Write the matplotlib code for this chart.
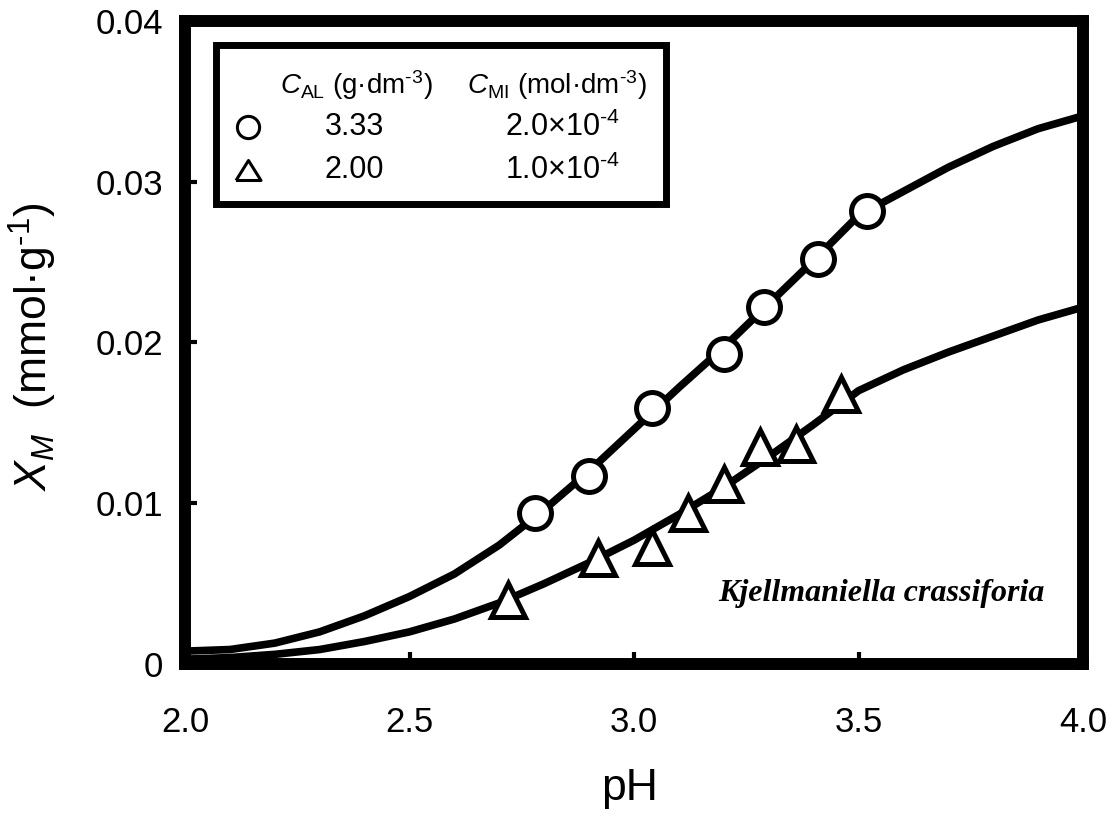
import numpy as np
import matplotlib
matplotlib.use('Agg')
import matplotlib.pyplot as plt
from matplotlib.patches import Rectangle

plt.rcParams['font.family'] = ['Liberation Sans', 'DejaVu Sans']
plt.rcParams['mathtext.fontset'] = 'custom'
plt.rcParams['mathtext.rm'] = 'Liberation Sans'
plt.rcParams['mathtext.it'] = 'Liberation Sans:italic'
plt.rcParams['mathtext.bf'] = 'Liberation Sans:bold'

# measured points
circ_ph = [2.78, 2.90, 3.04, 3.20, 3.29, 3.41, 3.52]
circ_x = [0.0094, 0.0117, 0.0159, 0.0193, 0.0222, 0.0252, 0.0282]
tri_ph = [2.72, 2.92, 3.04, 3.12, 3.20, 3.28, 3.36, 3.46]
tri_x = [0.0040, 0.0066, 0.0073, 0.0094, 0.0112, 0.0135, 0.0137, 0.0168]

# calculated curves
fit_ph = [2.0, 2.1, 2.2, 2.3, 2.4, 2.5, 2.6, 2.7, 2.8, 2.9, 3.0,
          3.1, 3.2, 3.3, 3.4, 3.5, 3.6, 3.7, 3.8, 3.9, 4.0]
fit_circ = [0.0008, 0.0009, 0.0013, 0.0020, 0.0030, 0.0042, 0.0056, 0.0074, 0.0096, 0.0120, 0.0146,
            0.0172, 0.0197, 0.0224, 0.0251, 0.0279, 0.0294, 0.0309, 0.0322, 0.0333, 0.0341]
fit_tri = [0.0003, 0.0004, 0.0006, 0.0009, 0.0014, 0.0020, 0.0028, 0.0038, 0.0050, 0.0063, 0.0077,
           0.0093, 0.0110, 0.0129, 0.0149, 0.0170, 0.0183, 0.0194, 0.0204, 0.0214, 0.0222]

x_ticks = [2.0, 2.5, 3.0, 3.5, 4.0]
x_ticklabels = ['2.0', '2.5', '3.0', '3.5', '4.0']
y_ticks = [0, 0.01, 0.02, 0.03, 0.04]
y_ticklabels = ['0', '0.01', '0.02', '0.03', '0.04']

fig = plt.figure(figsize=(11.17, 8.18), dpi=100)
ax = fig.add_axes([185/1117, 1-664/818, 898/1117, 643/818])

ax.plot(fit_ph, fit_circ, color='black', lw=5.5, solid_joinstyle='round', zorder=2)
ax.plot(fit_ph, fit_tri, color='black', lw=5.5, solid_joinstyle='round', zorder=2)
ax.plot(circ_ph, circ_x, 'o', ms=23, mfc='white', mec='black', mew=3.6, zorder=3)
ax.plot(tri_ph, tri_x, '^', ms=25, mfc='white', mec='black', mew=3.6, zorder=3)

ax.set_xlim(2.0, 4.0)
ax.set_ylim(0, 0.04)
ax.set_xticks(x_ticks)
ax.set_xticklabels(x_ticklabels)
ax.set_yticks(y_ticks)
ax.set_yticklabels(y_ticklabels)
for s in ax.spines.values():
    s.set_linewidth(8.6)
ax.tick_params(direction='in', length=8.6, width=3, labelsize=25)
ax.tick_params(axis='x', pad=30)
ax.tick_params(axis='y', pad=16)

# legend box drawn by hand
ax.add_patch(Rectangle((0.035, 0.716), 0.501, 0.246, transform=ax.transAxes,
                       fill=False, lw=5, ec='black', zorder=5, clip_on=False))
ax.text(0.106, 0.900, r'$C_{\mathrm{AL}}$ (g·dm$^{\text{-3}}$)', transform=ax.transAxes,
        fontsize=20, ha='left', va='center')
ax.text(0.314, 0.900, r'$C_{\mathrm{MI}}$ (mol·dm$^{\text{-3}}$)', transform=ax.transAxes,
        fontsize=20, ha='left', va='center')
ax.plot([0.070], [0.835], 'o', ms=16, mfc='none', mec='black', mew=2.2,
        transform=ax.transAxes, clip_on=False)
ax.plot([0.070], [0.768], marker=[(-1, -0.8), (1, -0.8), (0, 0.8), (-1, -0.8)], ms=18,
        mfc='none', mec='black', mew=2.2, transform=ax.transAxes, clip_on=False)
ax.text(0.189, 0.835, '3.33', transform=ax.transAxes, fontsize=22, ha='center', va='center')
ax.text(0.189, 0.768, '2.00', transform=ax.transAxes, fontsize=22, ha='center', va='center')
ax.text(0.420, 0.835, r'2.0$\times$10$^{\text{-4}}$', transform=ax.transAxes, fontsize=22, ha='center', va='center')
ax.text(0.420, 0.768, r'1.0$\times$10$^{\text{-4}}$', transform=ax.transAxes, fontsize=22, ha='center', va='center')

ax.text(0.957, 0.098, 'Kjellmaniella crassiforia', transform=ax.transAxes,
        fontsize=23, ha='right', va='baseline', family='Liberation Serif',
        style='italic', weight='bold')

fig.text(33/1117, 1-347/818, r'$X_M$  (mmol·g$^{\text{-1}}$)', rotation=90,
         fontsize=32, ha='center', va='center')
fig.text(630/1117, 18/818, 'pH', fontsize=32, ha='center', va='baseline')

fig.savefig('out.png', dpi=100)
